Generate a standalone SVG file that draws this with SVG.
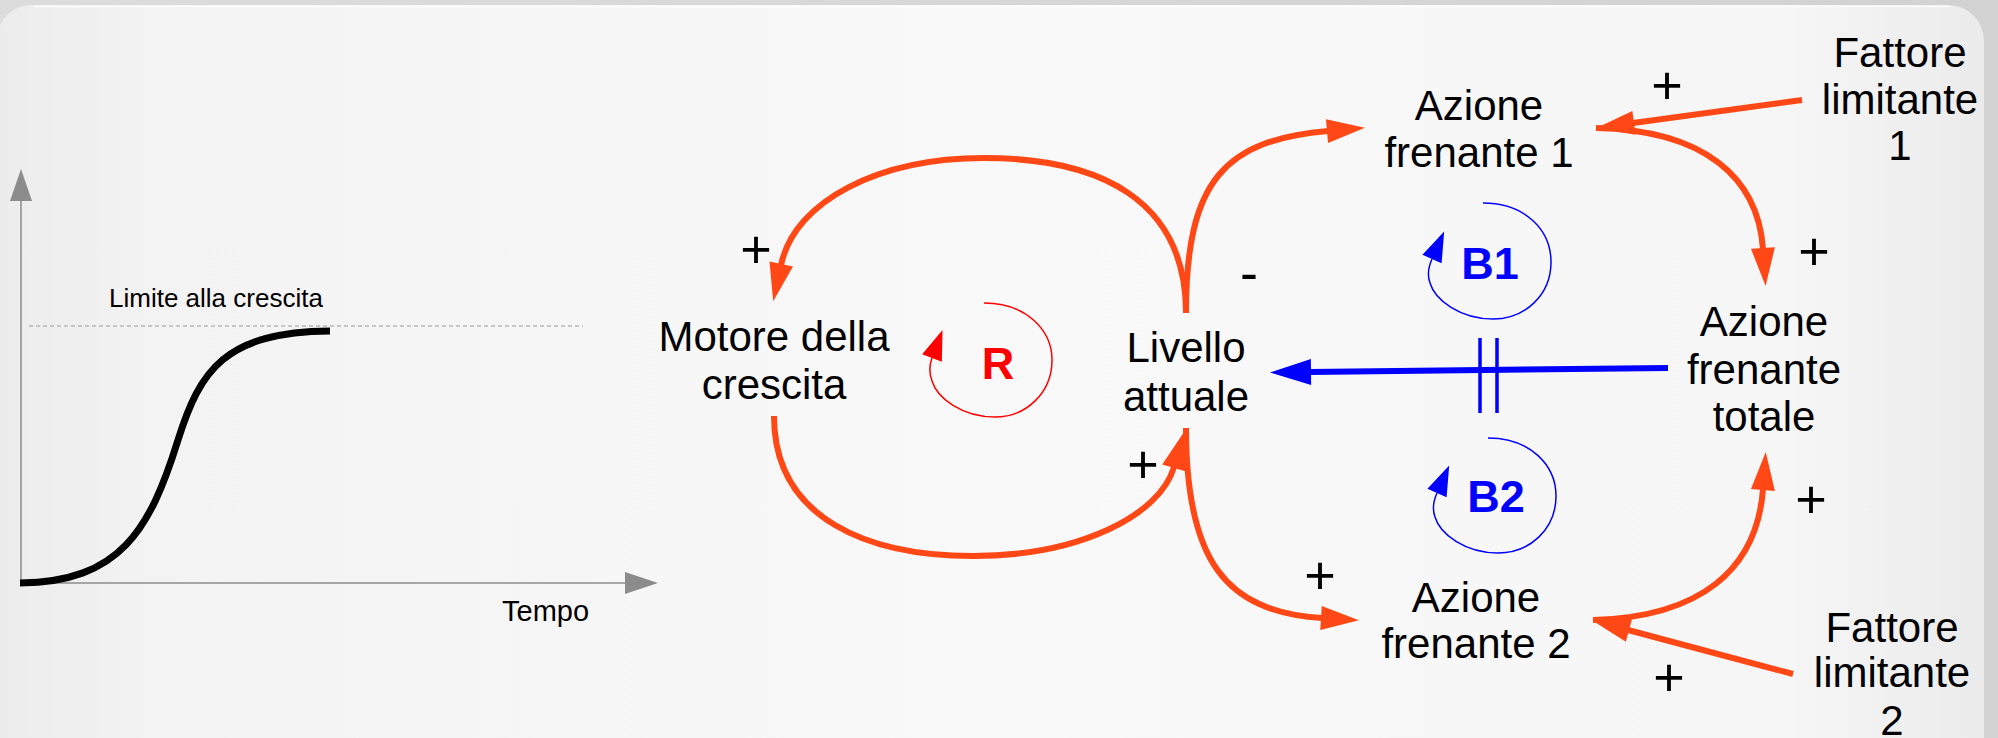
<svg xmlns="http://www.w3.org/2000/svg" width="1998" height="738" viewBox="0 0 1998 738">
<style>
  .lbl { font-family: "Liberation Sans", Arial, sans-serif; font-size: 42px; fill: #000; text-anchor: middle; }
  .sign { font-family: "Liberation Sans", Arial, sans-serif; font-size: 54px; fill: #000; text-anchor: middle; }
  .small { font-family: "Liberation Sans", Arial, sans-serif; fill: #000; }
  .loopname { font-family: "Liberation Sans", Arial, sans-serif; font-size: 45px; font-weight: bold; text-anchor: middle; }
  .link { fill: none; stroke: #ff4816; stroke-width: 6; marker-end: url(#headOrange); }
  .axis { fill: none; stroke: #8c8c8c; stroke-width: 1.5; }
  .loopR { fill: none; stroke: #ff0000; stroke-width: 1.5; marker-end: url(#headRed); }
  .loopB { fill: none; stroke: #0000ff; stroke-width: 1.5; marker-end: url(#headBlueSmall); }
</style>
<defs>
  <linearGradient id="panelGrad" x1="0" y1="0" x2="1" y2="0">
    <stop offset="0" stop-color="#ececec"/>
    <stop offset="0.08" stop-color="#f3f3f3"/>
    <stop offset="0.5" stop-color="#f9f9f9"/>
    <stop offset="0.9" stop-color="#f6f6f6"/>
    <stop offset="1" stop-color="#ebebeb"/>
  </linearGradient>
  <linearGradient id="outerGrad" x1="0" y1="0" x2="1" y2="0">
    <stop offset="0" stop-color="#dcdcdc"/>
    <stop offset="1" stop-color="#d2d2d2"/>
  </linearGradient>
  <marker id="headOrange" markerUnits="userSpaceOnUse" markerWidth="80" markerHeight="80" refX="0" refY="0" viewBox="-40 -40 80 80" orient="auto" overflow="visible">
    <path d="M-1,-12 L37,0 L-1,12 Z" fill="#ff4816"/>
  </marker>
  <marker id="headBlue" markerUnits="userSpaceOnUse" markerWidth="90" markerHeight="90" refX="0" refY="0" viewBox="-45 -45 90 90" orient="auto" overflow="visible">
    <path d="M-1,-13 L40,0 L-1,13 Z" fill="#0000ff"/>
  </marker>
  <marker id="headRed" markerUnits="userSpaceOnUse" markerWidth="70" markerHeight="70" refX="0" refY="0" viewBox="-35 -35 70 70" orient="auto" overflow="visible">
    <path d="M0,-10.5 L30,0 L0,10.5 Z" fill="#ff0000"/>
  </marker>
  <marker id="headBlueSmall" markerUnits="userSpaceOnUse" markerWidth="70" markerHeight="70" refX="0" refY="0" viewBox="-35 -35 70 70" orient="auto" overflow="visible">
    <path d="M0,-10.5 L30,0 L0,10.5 Z" fill="#0000ff"/>
  </marker>
</defs>

<!-- background -->
<rect x="0" y="0" width="1998" height="738" fill="url(#outerGrad)"/>
<rect x="-4" y="5" width="1988" height="800" rx="36" ry="36" fill="url(#panelGrad)"/>
<path d="M34,6.5 L1950,6.5" stroke="#ffffff" stroke-width="1.5" fill="none" opacity="0.8"/>

<!-- growth chart -->
<g id="chart">
  <line class="axis" x1="21" y1="200" x2="21" y2="583"/>
  <polygon points="21,169 10,201 32,201" fill="#8c8c8c"/>
  <line class="axis" x1="21" y1="583" x2="626" y2="583"/>
  <polygon points="658,583 625,572 625,594" fill="#8c8c8c"/>
  <line x1="29" y1="326" x2="583" y2="326" stroke="#999" stroke-width="1" stroke-dasharray="4 3"/>
  <path d="M20,583 C120,582 150,530 178,440 C200,370 225,332 330,331" fill="none" stroke="#000" stroke-width="7"/>
  <text class="small" x="109" y="307" font-size="26">Limite alla crescita</text>
  <text class="small" x="502" y="621" font-size="29">Tempo</text>
</g>

<!-- connectors -->
<g id="connectors">
  <path class="link" d="M1186,313 C1186,200 1100,158 984,158 C880,158 795,200 781,265"/>
  <path class="link" d="M774,416 C774,520 870,556 973,556 C1080,556 1160,515 1174,467"/>
  <path class="link" d="M1186,313 C1186,180 1225,140 1328,131"/>
  <path class="link" d="M1186,428 C1186,560 1225,612 1322,618"/>
  <path class="link" d="M1802,100 L1633,123"/>
  <path class="link" d="M1596,128 C1705,130 1758,178 1763,249"/>
  <path class="link" d="M1593,620 C1700,617 1757,570 1763,489"/>
  <path class="link" d="M1793,674 L1628,630"/>
  <path d="M1668,368 L1310,372" fill="none" stroke="#0000ff" stroke-width="6" marker-end="url(#headBlue)"/>
  <line x1="1480" y1="338" x2="1480" y2="413" stroke="#0000ff" stroke-width="3.5"/>
  <line x1="1497" y1="338" x2="1497" y2="413" stroke="#0000ff" stroke-width="3.5"/>
  <text class="sign" x="756" y="268">+</text>
  <text class="sign" x="1143" y="483">+</text>
  <text class="sign" x="1249" y="291">-</text>
  <text class="sign" x="1667" y="104">+</text>
  <text class="sign" x="1814" y="270">+</text>
  <text class="sign" x="1811" y="518">+</text>
  <text class="sign" x="1320" y="594">+</text>
  <text class="sign" x="1669" y="696">+</text>
</g>

<!-- nodes -->
<g id="node-motore">
  <text class="lbl"><tspan x="774" y="351">Motore della</tspan><tspan x="774" y="399">crescita</tspan></text>
</g>
<g id="node-livello">
  <text class="lbl"><tspan x="1186" y="362">Livello</tspan><tspan x="1186" y="411">attuale</tspan></text>
</g>
<g id="node-azione1">
  <text class="lbl"><tspan x="1479" y="120">Azione</tspan><tspan x="1479" y="167">frenante 1</tspan></text>
</g>
<g id="node-azione2">
  <text class="lbl"><tspan x="1476" y="612">Azione</tspan><tspan x="1476" y="658">frenante 2</tspan></text>
</g>
<g id="node-totale">
  <text class="lbl"><tspan x="1764" y="336">Azione</tspan><tspan x="1764" y="384">frenante</tspan><tspan x="1764" y="431">totale</tspan></text>
</g>
<g id="node-fattore1">
  <text class="lbl"><tspan x="1900" y="67">Fattore</tspan><tspan x="1900" y="114">limitante</tspan><tspan x="1900" y="160">1</tspan></text>
</g>
<g id="node-fattore2">
  <text class="lbl"><tspan x="1892" y="642">Fattore</tspan><tspan x="1892" y="687">limitante</tspan><tspan x="1892" y="735">2</tspan></text>
</g>

<!-- loop markers -->
<g id="loop-R">
  <path class="loopR" d="M984,303 C1026,303 1052,330 1052,360 C1052,393 1026,417 995,417 C962,417 937,398 932,381 C929,373 929,366 932,358"/>
  <text class="loopname" x="998" y="379" fill="#ff0000">R</text>
</g>
<g id="loop-B1">
  <path class="loopB" d="M1483,203 C1525,203 1551,230 1551,262 C1551,295 1525,319 1493,319 C1460,319 1435,300 1430,283 C1427,275 1428,268 1432,259"/>
  <text class="loopname" x="1490" y="279" fill="#0000ff">B1</text>
</g>
<g id="loop-B2">
  <path class="loopB" d="M1488,438 C1530,438 1556,465 1556,496 C1556,529 1530,553 1498,553 C1465,553 1440,534 1435,517 C1432,509 1433,502 1437,493"/>
  <text class="loopname" x="1496" y="512" fill="#0000ff">B2</text>
</g>
</svg>
